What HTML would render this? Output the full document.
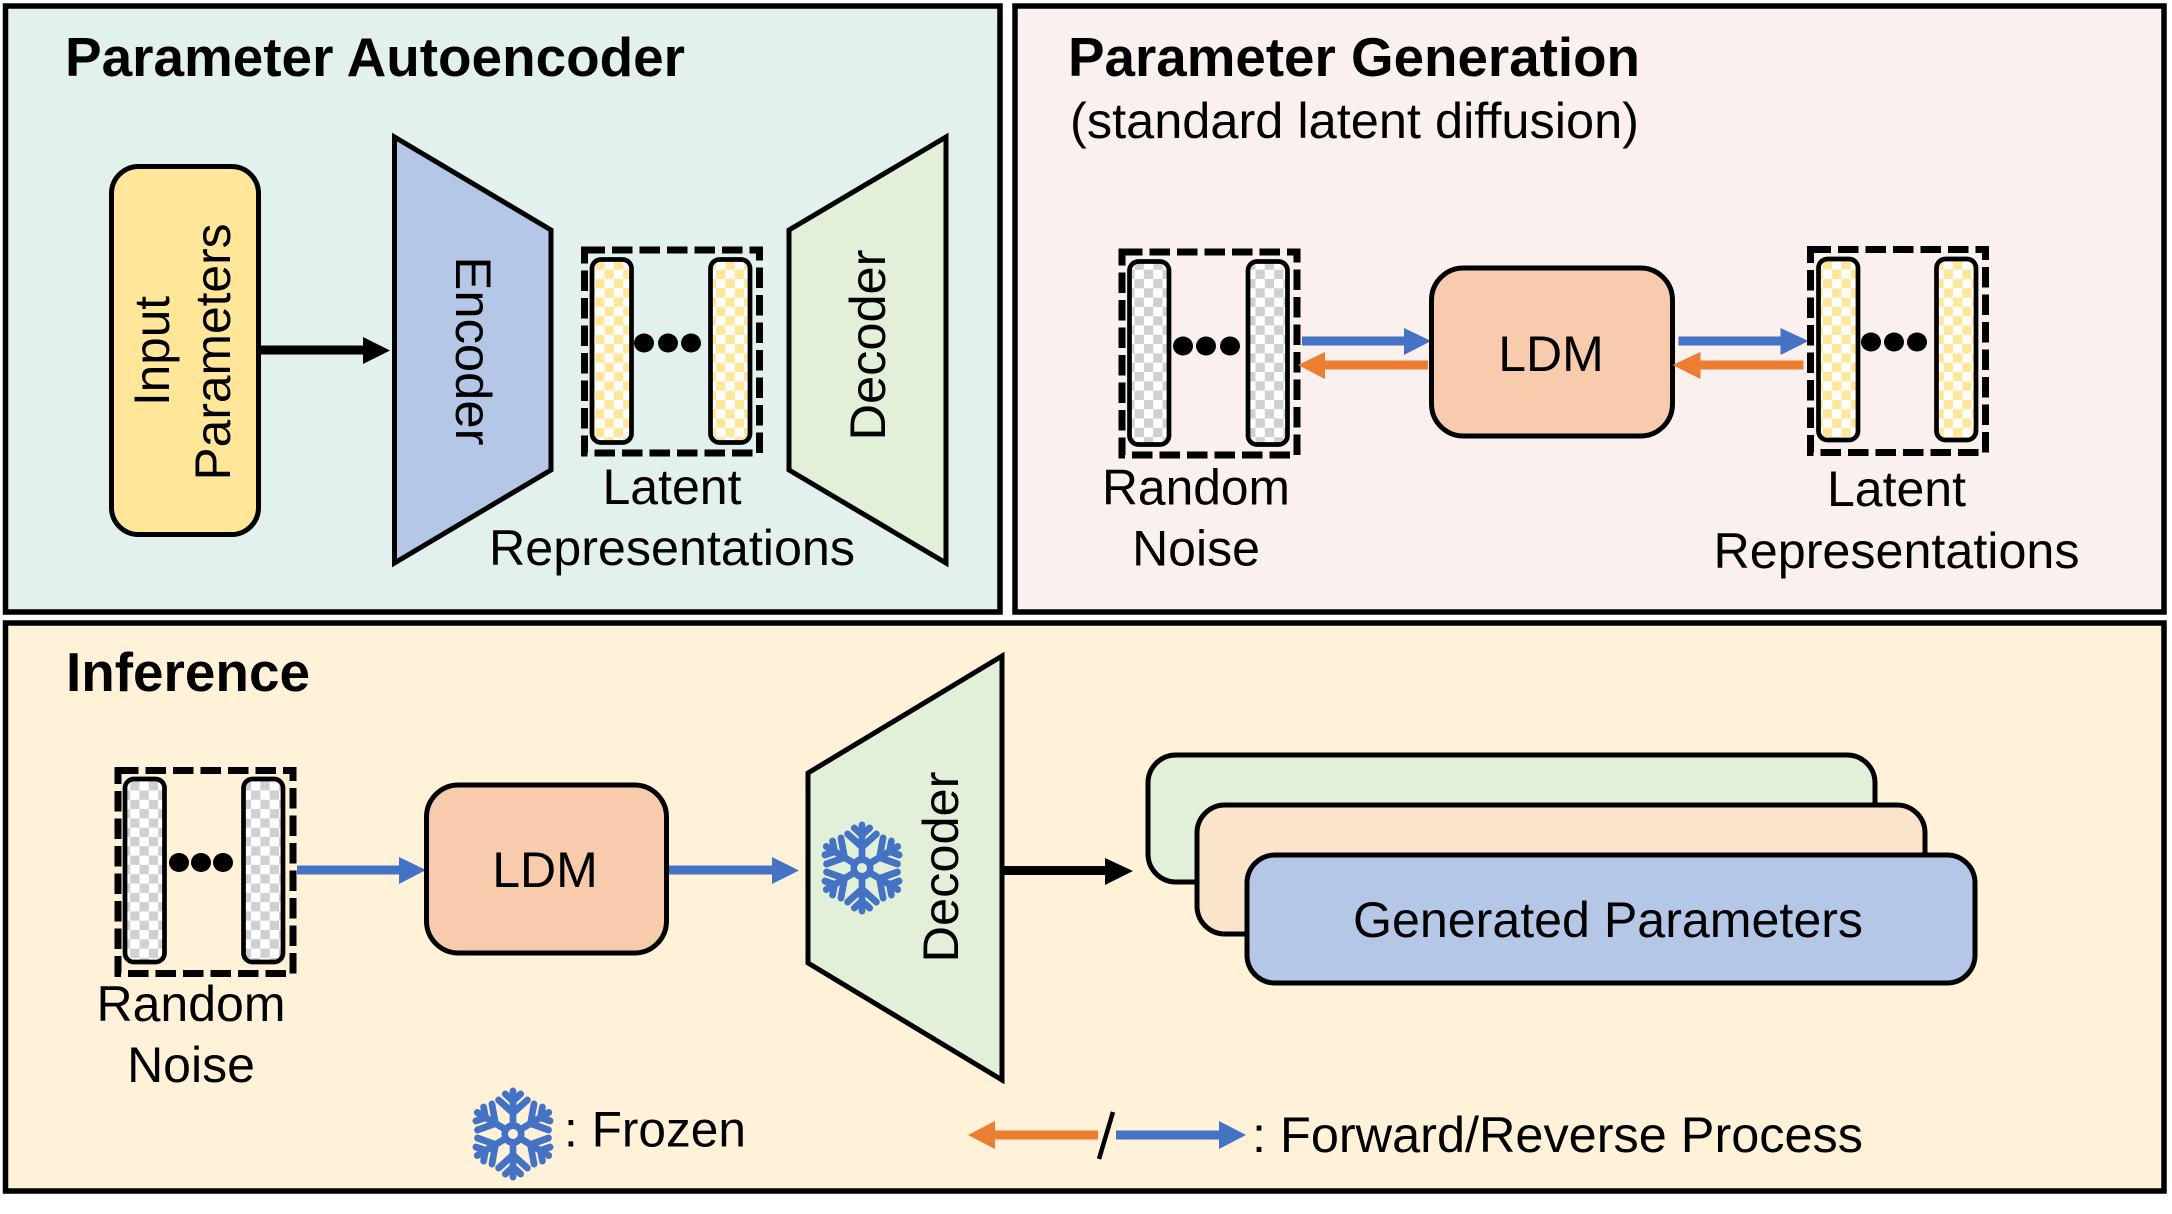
<!DOCTYPE html>
<html><head><meta charset="utf-8"><style>html,body{margin:0;padding:0;background:#fff}svg{display:block}text{font-family:"Liberation Sans",sans-serif;fill:#000}</style></head><body>
<svg width="2172" height="1214" viewBox="0 0 2172 1214" xmlns="http://www.w3.org/2000/svg">
<defs>
<pattern id="y" width="18.6" height="18.6" patternUnits="userSpaceOnUse"><rect width="18.6" height="18.6" fill="#fff"/><rect width="9.3" height="9.3" fill="#FFE699"/><rect x="9.3" y="9.3" width="9.3" height="9.3" fill="#FFE699"/></pattern>
<pattern id="g" width="18.6" height="18.6" patternUnits="userSpaceOnUse"><rect width="18.6" height="18.6" fill="#fff"/><rect width="9.3" height="9.3" fill="#D0D0D0"/><rect x="9.3" y="9.3" width="9.3" height="9.3" fill="#D0D0D0"/></pattern>
<g id="arm" stroke="#4472C4" stroke-width="7" stroke-linecap="round" fill="none"><path d="M0 0V-43M0-21L-15-34M0-21L15-34M0-33L-8-40M0-33L8-40"/></g>
<g id="flake"><g transform="scale(.96 1)"><use href="#arm"/><use href="#arm" transform="rotate(60)"/><use href="#arm" transform="rotate(120)"/><use href="#arm" transform="rotate(180)"/><use href="#arm" transform="rotate(240)"/><use href="#arm" transform="rotate(300)"/><circle r="12" fill="#4472C4"/></g></g>
<g id="dash"><rect width="175" height="203" fill="none" stroke="#000" stroke-width="7" stroke-dasharray="20.5 7"/></g>
</defs>

<!-- panels -->
<rect x="5.5" y="6" width="994.5" height="606" fill="#E2F0EE" stroke="#000" stroke-width="5.5"/>
<rect x="1015" y="6" width="1149" height="606" fill="#FAF0EE" stroke="#000" stroke-width="5.5"/>
<rect x="5.5" y="623" width="2158.5" height="568" fill="#FFF2D9" stroke="#000" stroke-width="5.5"/>

<!-- titles -->
<text x="65" y="76" font-size="54.5" font-weight="700" textLength="620" lengthAdjust="spacingAndGlyphs">Parameter Autoencoder</text>
<text x="1068" y="76" font-size="54.5" font-weight="700" textLength="572" lengthAdjust="spacingAndGlyphs">Parameter Generation</text>
<text x="1070" y="138" font-size="50" textLength="569" lengthAdjust="spacingAndGlyphs">(standard latent diffusion)</text>
<text x="66" y="691" font-size="54.5" font-weight="700" textLength="244" lengthAdjust="spacingAndGlyphs">Inference</text>

<!-- Autoencoder -->
<rect x="111.5" y="166.5" width="147" height="368" rx="27" fill="#FFE699" stroke="#000" stroke-width="5"/>
<text transform="translate(169,351) rotate(-90)" font-size="50" text-anchor="middle" textLength="110" lengthAdjust="spacingAndGlyphs">Input</text>
<text transform="translate(230,352) rotate(-90)" font-size="50" text-anchor="middle" textLength="257" lengthAdjust="spacingAndGlyphs">Parameters</text>
<rect x="259" y="345.5" width="106" height="9"/>
<path d="M363 337L390 350.5L363 364Z"/>
<polygon points="394.5,137 551,230 551,470 394.5,563" fill="#B4C7E7" stroke="#000" stroke-width="5"/>
<text transform="translate(456,351) rotate(90)" font-size="50" text-anchor="middle" textLength="189" lengthAdjust="spacingAndGlyphs">Encoder</text>
<polygon points="789,230 946,137 946,563 789,470" fill="#E2F0D9" stroke="#000" stroke-width="5"/>
<text transform="translate(885,345) rotate(-90)" font-size="50" text-anchor="middle" textLength="191" lengthAdjust="spacingAndGlyphs">Decoder</text>

<use href="#dash" x="584.5" y="250"/>
<rect x="592" y="259.5" width="39.5" height="183" rx="9" fill="url(#y)" stroke="#000" stroke-width="4.7"/>
<rect x="710.5" y="259.5" width="39.5" height="183" rx="9" fill="url(#y)" stroke="#000" stroke-width="4.7"/>
<ellipse cx="644" cy="343" rx="10" ry="9.5"/><ellipse cx="668" cy="343" rx="10" ry="9.5"/><ellipse cx="691" cy="343" rx="10" ry="9.5"/>
<text x="672" y="504" font-size="50" text-anchor="middle">Latent</text>
<text x="672" y="565" font-size="50" text-anchor="middle" textLength="366" lengthAdjust="spacingAndGlyphs">Representations</text>

<!-- Generation -->
<use href="#dash" x="1122" y="252"/>
<rect x="1129.5" y="261.5" width="39.5" height="183" rx="9" fill="url(#g)" stroke="#000" stroke-width="4.7"/>
<rect x="1248" y="261.5" width="39.5" height="183" rx="9" fill="url(#g)" stroke="#000" stroke-width="4.7"/>
<ellipse cx="1183" cy="346" rx="10" ry="9.5"/><ellipse cx="1206" cy="346" rx="10" ry="9.5"/><ellipse cx="1230" cy="346" rx="10" ry="9.5"/>
<rect x="1302" y="336.5" width="104" height="9" fill="#4472C4"/><path d="M1404 328L1431 341L1404 355Z" fill="#4472C4"/>
<rect x="1323" y="360.5" width="105" height="9" fill="#ED7D31"/><path d="M1325 352L1298 365L1325 379Z" fill="#ED7D31"/>
<rect x="1431.5" y="268" width="241" height="168" rx="32" fill="#F8CBAD" stroke="#000" stroke-width="5"/>
<text x="1551" y="371" font-size="50" text-anchor="middle">LDM</text>
<rect x="1678.5" y="336.5" width="104" height="9" fill="#4472C4"/><path d="M1780.5 328L1808.5 341L1780.5 355Z" fill="#4472C4"/>
<rect x="1698.5" y="360.5" width="105" height="9" fill="#ED7D31"/><path d="M1700.5 352L1672.5 365L1700.5 379Z" fill="#ED7D31"/>
<use href="#dash" x="1810.5" y="249.5"/>
<rect x="1818.5" y="259" width="39.5" height="181" rx="9" fill="url(#y)" stroke="#000" stroke-width="4.7"/>
<rect x="1936.5" y="259" width="39.5" height="181" rx="9" fill="url(#y)" stroke="#000" stroke-width="4.7"/>
<ellipse cx="1871" cy="342" rx="10" ry="9.5"/><ellipse cx="1894" cy="342" rx="10" ry="9.5"/><ellipse cx="1917" cy="342" rx="10" ry="9.5"/>
<text x="1196" y="504.5" font-size="50" text-anchor="middle" textLength="188" lengthAdjust="spacingAndGlyphs">Random</text>
<text x="1196" y="565.5" font-size="50" text-anchor="middle">Noise</text>
<text x="1896.5" y="506" font-size="50" text-anchor="middle">Latent</text>
<text x="1896.5" y="568" font-size="50" text-anchor="middle" textLength="366" lengthAdjust="spacingAndGlyphs">Representations</text>

<!-- Inference -->
<use href="#dash" x="118" y="770.5"/>
<rect x="125" y="779" width="39.5" height="183" rx="9" fill="url(#g)" stroke="#000" stroke-width="4.7"/>
<rect x="243.5" y="779" width="39.5" height="183" rx="9" fill="url(#g)" stroke="#000" stroke-width="4.7"/>
<ellipse cx="179" cy="862.5" rx="10" ry="9.5"/><ellipse cx="201" cy="862.5" rx="10" ry="9.5"/><ellipse cx="223" cy="862.5" rx="10" ry="9.5"/>
<text x="191" y="1021" font-size="50" text-anchor="middle" textLength="189" lengthAdjust="spacingAndGlyphs">Random</text>
<text x="191" y="1082" font-size="50" text-anchor="middle">Noise</text>
<rect x="297" y="865.5" width="104" height="9" fill="#4472C4"/><path d="M399 857L426 870L399 884Z" fill="#4472C4"/>
<rect x="426.5" y="785" width="240" height="168" rx="32" fill="#F8CBAD" stroke="#000" stroke-width="5"/>
<text x="545" y="887" font-size="50" text-anchor="middle">LDM</text>
<rect x="669" y="865.5" width="105" height="9" fill="#4472C4"/><path d="M772 857L799 870.5L772 884Z" fill="#4472C4"/>
<polygon points="808,773 1002,656 1002,1080 808,963" fill="#E2F0D9" stroke="#000" stroke-width="5"/>
<use href="#flake" x="862" y="868"/>
<circle cx="862" cy="868" r="5" fill="#E2F0D9"/>
<text transform="translate(958,867) rotate(-90)" font-size="50" text-anchor="middle" textLength="191" lengthAdjust="spacingAndGlyphs">Decoder</text>
<rect x="1003" y="866" width="104" height="9"/><path d="M1105 858L1133 871L1105 885Z"/>
<rect x="1148" y="755" width="727" height="127" rx="28" fill="#E2F0D9" stroke="#000" stroke-width="5"/>
<rect x="1197" y="805" width="728" height="129" rx="28" fill="#FAE5CC" stroke="#000" stroke-width="5"/>
<rect x="1247" y="855" width="728" height="128" rx="28" fill="#B4C7E7" stroke="#000" stroke-width="5"/>
<text x="1608" y="937" font-size="50" text-anchor="middle" textLength="510" lengthAdjust="spacingAndGlyphs">Generated Parameters</text>

<!-- legend -->
<use href="#flake" x="513" y="1134"/>
<circle cx="513" cy="1134" r="5" fill="#FFF2D9"/>
<text x="564" y="1146.5" font-size="50" textLength="182" lengthAdjust="spacingAndGlyphs">: Frozen</text>
<rect x="993" y="1130.5" width="105" height="9" fill="#ED7D31"/><path d="M995 1121L968 1135L995 1149Z" fill="#ED7D31"/>
<line x1="1113" y1="1112" x2="1099" y2="1159" stroke="#000" stroke-width="4.5"/>
<rect x="1116" y="1130.5" width="105" height="9" fill="#4472C4"/><path d="M1219 1121L1246 1135L1219 1149Z" fill="#4472C4"/>
<text x="1252" y="1152" font-size="50" textLength="611" lengthAdjust="spacingAndGlyphs">: Forward/Reverse Process</text>
</svg>
</body></html>
